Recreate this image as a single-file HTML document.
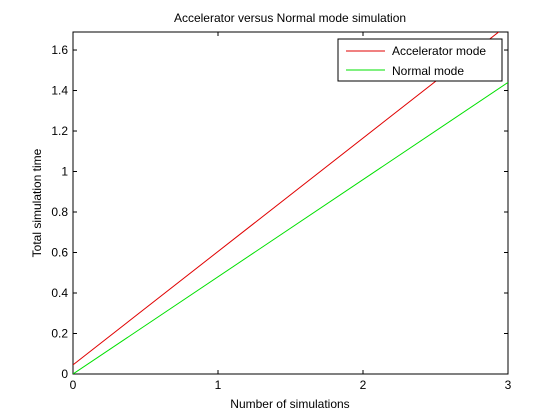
<!DOCTYPE html>
<html><head><meta charset="utf-8"><style>
body{margin:0;background:#fff;}
svg{display:block;font-family:"Liberation Sans",Arial,sans-serif;}
</style></head><body>
<svg id="chart" width="560" height="420">
<defs><clipPath id="clip"><rect x="73" y="32" width="435" height="342"/></clipPath></defs>
<rect x="73" y="32" width="435" height="342" fill="#fff" stroke="#000" stroke-width="1"/>
<text x="290" y="22" font-size="12" text-anchor="middle">Accelerator versus Normal mode simulation</text>
<text x="290" y="408" font-size="12" text-anchor="middle">Number of simulations</text>
<text transform="translate(41,203) rotate(-90)" font-size="12" text-anchor="middle">Total simulation time</text>
<g id="ticks"></g>
<g id="series" clip-path="url(#clip)"></g>
<g>
<rect x="338" y="39" width="164" height="42" fill="#fff" stroke="#000"/>
<line x1="346" y1="51" x2="385" y2="51" stroke="#e00000"/>
<text x="392" y="55" font-size="12">Accelerator mode</text>
<line x1="346" y1="70" x2="385" y2="70" stroke="#00e000"/>
<text x="392" y="75" font-size="12">Normal mode</text>
</g>
</svg>
<script>
const xValues = [0, 3];
const accelValues = [0.045, 1.725];
const normalValues = [0, 1.44];
const xTicks = [0, 1, 2, 3];
const yTicks = [0, 0.2, 0.4, 0.6, 0.8, 1, 1.2, 1.4, 1.6];
const xMin = 0, xMax = 3, yMin = 0, yMax = 1.689;
const L = 73, R = 508, T = 32, B = 374;
function sx(v){return L + (v - xMin) / (xMax - xMin) * (R - L);}
function sy(v){return B - (v - yMin) / (yMax - yMin) * (B - T);}
const NS = "http://www.w3.org/2000/svg";
const tg = document.getElementById('ticks');
const sg = document.getElementById('series');
function mk(tag, attrs, parent){const e=document.createElementNS(NS,tag);for(const k in attrs)e.setAttribute(k,attrs[k]);parent.appendChild(e);return e;}
xTicks.forEach(v=>{
  const x = sx(v);
  const t1 = mk('line',{x1:x,y1:B,x2:x,y2:B-4,stroke:'#000'},tg);
  
  
  const t2 = mk('line',{x1:x,y1:T,x2:x,y2:T+4,stroke:'#000'},tg);
  
  
  const lb = mk('text',{x:x,y:B+15,'font-size':12,'text-anchor':'middle'},tg);
  lb.textContent = String(v);
  
  
});
yTicks.forEach(v=>{
  const y = sy(v);
  const t1 = mk('line',{x1:L,y1:y,x2:L+4,y2:y,stroke:'#000'},tg);
  
  
  const t2 = mk('line',{x1:R,y1:y,x2:R-4,y2:y,stroke:'#000'},tg);
  
  
  const lb = mk('text',{x:L-5,y:y+4,'font-size':12,'text-anchor':'end'},tg);
  lb.textContent = String(v);
  
  
});
function pts(ys){return xValues.map((x,i)=>sx(x)+','+sy(ys[i])).join(' ');}
const a = mk('polyline',{points:pts(accelValues),fill:'none',stroke:'#e00000','stroke-width':1},sg);


const n = mk('polyline',{points:pts(normalValues),fill:'none',stroke:'#00e000','stroke-width':1},sg);


</script>
</body></html>
